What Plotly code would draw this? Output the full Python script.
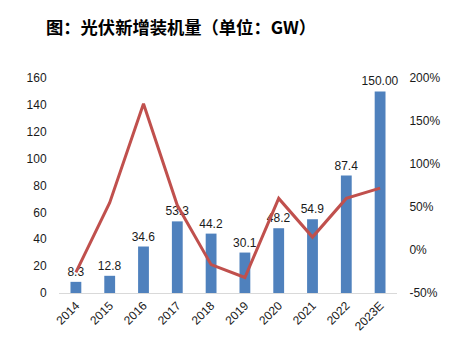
import plotly.graph_objects as go

years = ["2014", "2015", "2016", "2017", "2018", "2019", "2020", "2021", "2022", "2023E"]
installs = [8.3, 12.8, 34.6, 53.3, 44.2, 30.1, 48.2, 54.9, 87.4, 150.00]
install_labels = ["8.3", "12.8", "34.6", "53.3", "44.2", "30.1", "48.2", "54.9", "87.4", "150.00"]
growth_pct = [-26, 55, 170, 52, -17, -32, 60, 15, 60, 72]

left_ticks = [0, 20, 40, 60, 80, 100, 120, 140, 160]
right_ticks = [-50, 0, 50, 100, 150, 200]
right_tick_labels = ["-50%", "0%", "50%", "100%", "150%", "200%"]

font_family = "Liberation Sans, Arial, Noto Sans CJK SC, sans-serif"

fig = go.Figure()
fig.add_trace(go.Bar(
    x=years, y=installs, text=install_labels, textposition="outside",
    constraintext="none",
    textfont=dict(size=12, color="#1a1a1a", family=font_family),
    marker=dict(color="#4F81BD", line=dict(width=0)),
    width=0.32, cliponaxis=False, yaxis="y", name="新增装机量",
))
fig.add_trace(go.Scatter(
    x=years, y=growth_pct, mode="lines", yaxis="y2",
    line=dict(color="#C0504D", width=3), name="增速",
))

fig.update_layout(
    width=452, height=347,
    margin=dict(l=59, r=47, t=78, b=54),
    paper_bgcolor="white", plot_bgcolor="white",
    showlegend=False,
    font=dict(family=font_family, size=12, color="#1a1a1a"),
    title=dict(
        text="<b>图：光伏新增装机量（单位：GW）</b>",
        x=46 / 452, xanchor="left", y=1 - 28 / 347, yanchor="middle",
        font=dict(size=17.3, color="black", family="Noto Sans CJK SC, sans-serif"),
    ),
    xaxis=dict(
        type="category", showgrid=False, showline=True, linecolor="#d9d9d9", linewidth=1,
        tickangle=-45, ticks="", tickfont=dict(size=12), zeroline=False,
    ),
    yaxis=dict(
        range=[0, 160], tickvals=left_ticks, showgrid=False, zeroline=False,
        showline=False, ticks="outside", ticklen=9, tickcolor="rgba(0,0,0,0)",
        tickfont=dict(size=12),
    ),
    yaxis2=dict(
        range=[-50, 200], tickvals=right_ticks, ticktext=right_tick_labels,
        overlaying="y", side="right", showgrid=False, zeroline=False, showline=False,
        ticks="outside", ticklen=9, tickcolor="rgba(0,0,0,0)", tickfont=dict(size=12),
    ),
)

fig.write_html("out.html")
